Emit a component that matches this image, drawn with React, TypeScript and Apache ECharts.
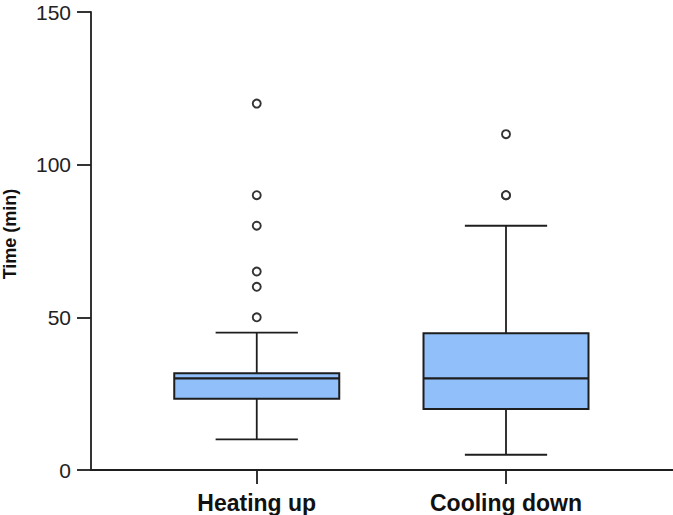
import React, { useEffect, useRef } from "react";
import * as echarts from "echarts";

const categories = ["Heating up", "Cooling down"];
const positions = [1, 2];
const whiskerLow = [10, 5];
const q1 = [23.3, 20];
const median = [30, 30];
const q3 = [31.7, 44.8];
const whiskerHigh = [45, 80];
const heatingOutliers = [50, 60, 65, 80, 90, 120];
const coolingOutliers = [90, 90, 110];
const yTicks = [0, 50, 100, 150];

export default function App() {
  const ref = useRef<HTMLDivElement>(null);
  useEffect(() => {
    if (!ref.current) return;
    const chart = echarts.init(ref.current, null, { renderer: "svg" });
    const boxData = positions.map((p, i) => [p, whiskerLow[i], q1[i], median[i], q3[i], whiskerHigh[i]]);
    const outlierData: number[][] = [
      ...heatingOutliers.map((v) => [positions[0], v]),
      ...coolingOutliers.map((v) => [positions[1], v]),
    ];
    const stroke = "#1e1e1e";
    chart.setOption({
      animation: false,
      backgroundColor: "#ffffff",
      grid: { left: 91, right: 0, top: 12, bottom: 45, containLabel: false, outerBoundsMode: "none" },
      xAxis: {
        type: "value",
        min: 0.335,
        max: 2.67,
        splitLine: { show: false },
        axisLine: { show: true, lineStyle: { color: stroke, width: 1.8 } },
        axisTick: { show: true, length: 14, customValues: positions, lineStyle: { color: stroke, width: 1.8 } },
        axisLabel: {
          customValues: positions,
          formatter: (v: number) => categories[positions.indexOf(Math.round(v))] ?? "",
          fontFamily: "Liberation Sans, Arial, sans-serif",
          fontWeight: "bold",
          fontSize: 23,
          color: "#111",
          margin: 21,
        },
      },
      yAxis: {
        type: "value",
        min: yTicks[0],
        max: yTicks[yTicks.length - 1],
        interval: 50,
        splitLine: { show: false },
        axisLine: { show: true, lineStyle: { color: stroke, width: 1.8 } },
        axisTick: { show: true, length: 14, lineStyle: { color: stroke, width: 1.8 } },
        axisLabel: {
          fontFamily: "Liberation Sans, Arial, sans-serif",
          fontSize: 21,
          lineHeight: 18,
          color: "#222",
          margin: 20,
        },
        name: "Time (min)",
        nameLocation: "middle",
        nameRotate: 90,
        nameGap: 72,
        nameTextStyle: {
          fontFamily: "Liberation Sans, Arial, sans-serif",
          fontWeight: "bold",
          fontSize: 18,
          color: "#111",
          padding: [0, 0, 0, 14],
        },
      },
      series: [
        {
          type: "custom",
          data: boxData,
          encode: { x: 0, y: [1, 2, 3, 4, 5] },
          renderItem: (params: any, api: any) => {
            const x = api.value(0);
            const band = api.size([1, 0])[0];
            const half = band * 0.331;
            const capHalf = band * 0.165;
            const pLow = api.coord([x, api.value(1)]);
            const pQ1 = api.coord([x, api.value(2)]);
            const pMed = api.coord([x, api.value(3)]);
            const pQ3 = api.coord([x, api.value(4)]);
            const pHigh = api.coord([x, api.value(5)]);
            const cx = pMed[0];
            const ls = { stroke, lineWidth: 1.8 };
            return {
              type: "group",
              children: [
                { type: "line", shape: { x1: cx, y1: pQ1[1], x2: cx, y2: pLow[1] }, style: ls },
                { type: "line", shape: { x1: cx, y1: pQ3[1], x2: cx, y2: pHigh[1] }, style: ls },
                { type: "line", shape: { x1: cx - capHalf, y1: pLow[1], x2: cx + capHalf, y2: pLow[1] }, style: ls },
                { type: "line", shape: { x1: cx - capHalf, y1: pHigh[1], x2: cx + capHalf, y2: pHigh[1] }, style: ls },
                {
                  type: "rect",
                  shape: { x: cx - half, y: pQ3[1], width: half * 2, height: pQ1[1] - pQ3[1] },
                  style: { fill: "#91BFF9", stroke, lineWidth: 2 },
                },
                { type: "line", shape: { x1: cx - half, y1: pMed[1], x2: cx + half, y2: pMed[1] }, style: { stroke, lineWidth: 2.2 } },
              ],
            };
          },
          z: 2,
        },
        {
          type: "scatter",
          data: outlierData,
          symbol: "circle",
          symbolSize: 8,
          itemStyle: { color: "#ffffff", borderColor: "#333", borderWidth: 1.9, opacity: 1 },
          z: 3,
        },
      ],
    });
    return () => chart.dispose();
  }, []);
  return <div ref={ref} style={{ position: "absolute", left: 0, top: 0, width: 673, height: 515 }} />;
}
